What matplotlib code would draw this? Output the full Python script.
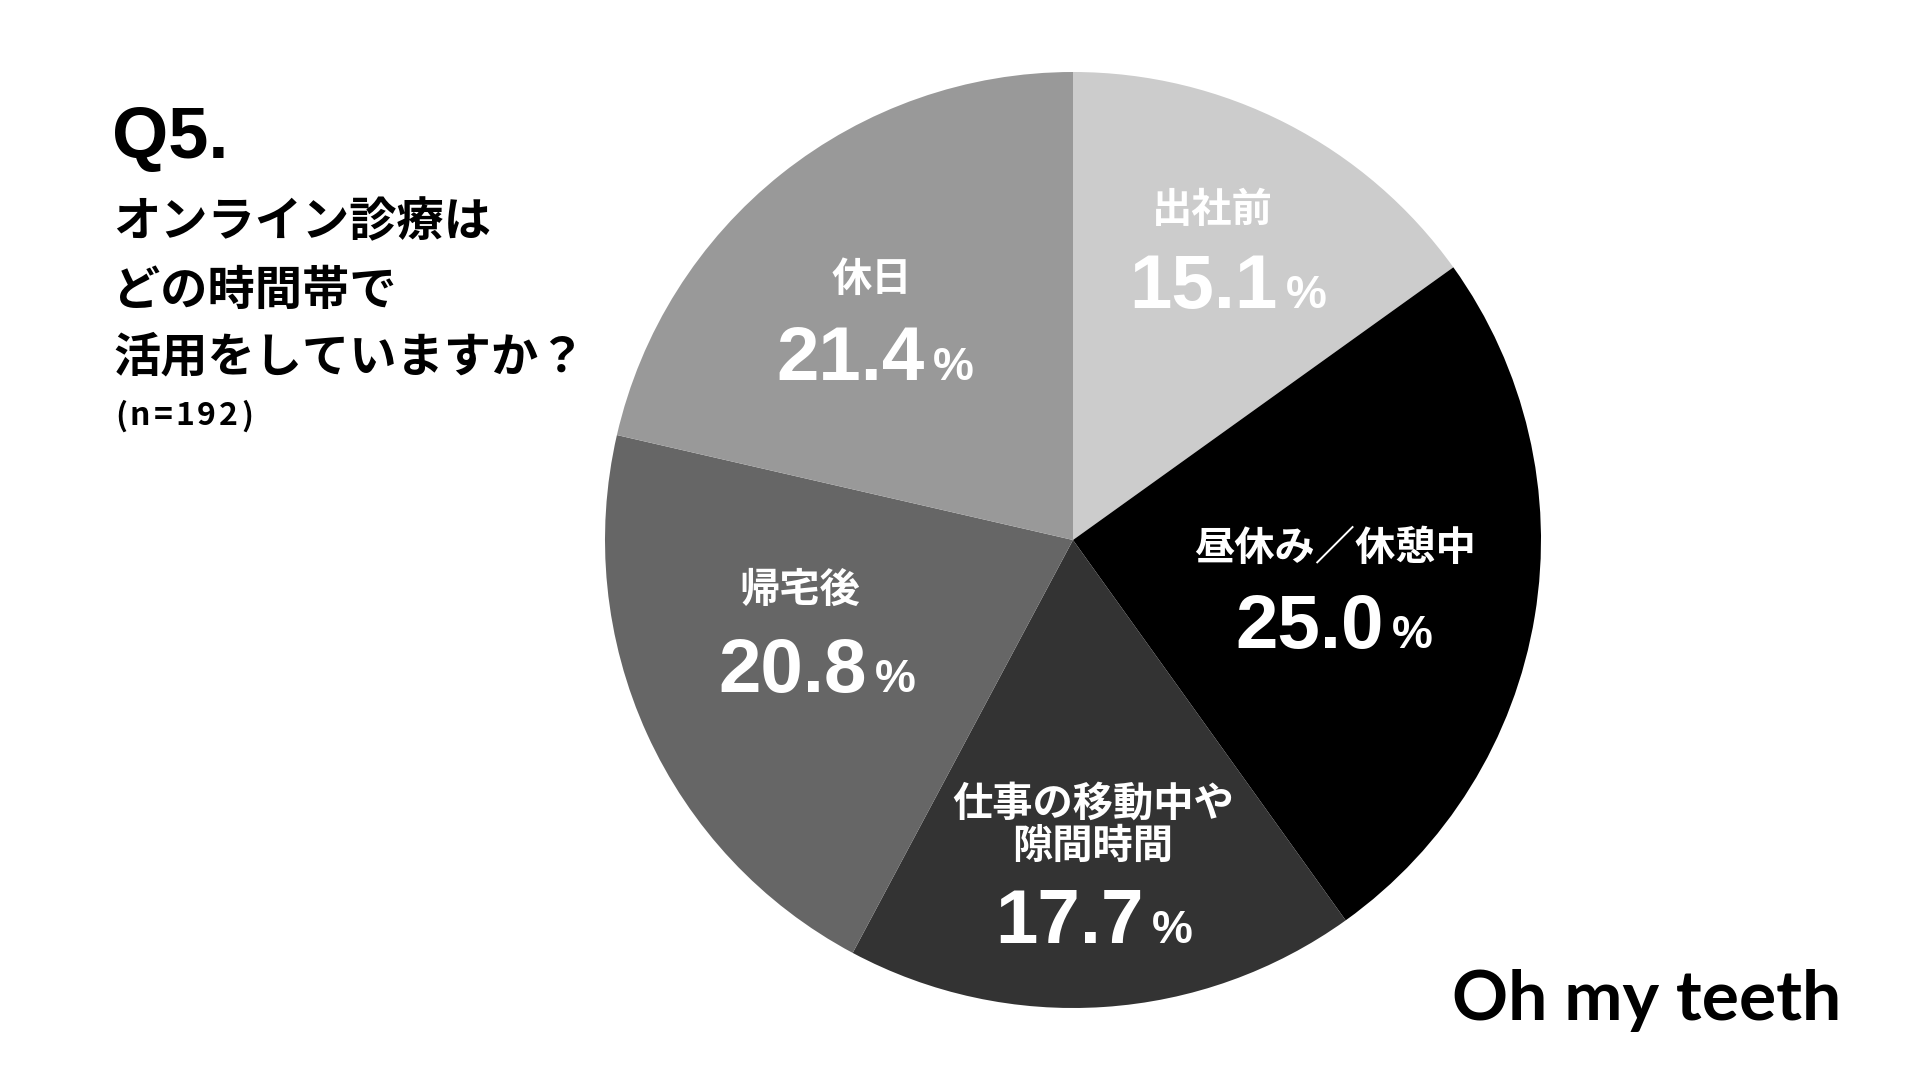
import matplotlib
matplotlib.use("Agg")
import matplotlib.pyplot as plt

JP = ['Noto Sans CJK JP', 'DejaVu Sans']
LATIN = ['Liberation Sans', 'DejaVu Sans']
plt.rcParams['font.family'] = JP

# data
categories = ['出社前', '昼休み／休憩中', '仕事の移動中や\n隙間時間', '帰宅後', '休日']
shares = [15.1, 25.0, 17.7, 20.8, 21.4]
colors = ['#cccccc', '#000000', '#333333', '#666666', '#999999']

title = 'Q5.'
question = ['オンライン診療は', 'どの時間帯で', '活用をしていますか？']
sample = '(n=192)'
brand = 'Oh my teeth'

# label anchors in pie units (radius = 1, centre = 0,0)
cat_xy = [(0.297, 0.703), (0.560, -0.019), (0.043, -0.609), (-0.583, -0.107), (-0.429, 0.556)]
num_xy = [(0.333, 0.496), (0.560, -0.231), (0.047, -0.861), (-0.545, -0.325), (-0.421, 0.342)]

W, H = 1920, 1080
fig = plt.figure(figsize=(W / 100, H / 100), dpi=100)
fig.patch.set_facecolor('white')


def px(x, y):
    # pixel coords (top-left origin) -> figure fraction
    return x / W, 1 - y / H


# pie: centre (1073, 540) px, radius 468 px
cx, cy, r = 1073, 540, 468
ax = fig.add_axes([(cx - r) / W, (H - cy - r) / H, 2 * r / W, 2 * r / H])
ax.pie(shares, colors=colors, startangle=90, counterclock=False, radius=1,
       wedgeprops=dict(linewidth=0))
ax.set_xlim(-1, 1)
ax.set_ylim(-1, 1)
ax.axis('off')

for cat, share, (lx, ly), (nx, ny) in zip(categories, shares, cat_xy, num_xy):
    ax.text(lx, ly, cat, color='white', fontsize=29, fontweight='bold',
            ha='center', va='center', linespacing=1.05, family=JP)
    ax.annotate(f'{share:.1f}', (nx, ny), xytext=(35, 0), textcoords='offset points',
                color='white', fontsize=55, fontweight='bold', family=LATIN,
                ha='right', va='baseline')
    ax.annotate('%', (nx, ny), xytext=(41, 0), textcoords='offset points',
                color='white', fontsize=33, fontweight='bold', family=LATIN,
                ha='left', va='baseline')

# title block
fig.text(*px(112, 158), title, fontsize=52, fontweight='bold', family=LATIN,
         ha='left', va='baseline')
for line, y in zip(question, [222, 291, 357]):
    fig.text(*px(113, y), line, fontsize=34, fontweight='bold', ha='left', va='center')

# sample size with a little tracking
renderer = fig.canvas.get_renderer()
x = 115
for ch in sample:
    t = fig.text(*px(x, 416), ch, fontsize=23, fontweight='bold', ha='left', va='center')
    x += t.get_window_extent(renderer).width + 3

fig.text(*px(1452, 1020), brand, fontsize=50, fontweight='bold',
         family=['Lato', 'DejaVu Sans'], ha='left', va='baseline')

fig.savefig('out.png', dpi=100, facecolor='white')
